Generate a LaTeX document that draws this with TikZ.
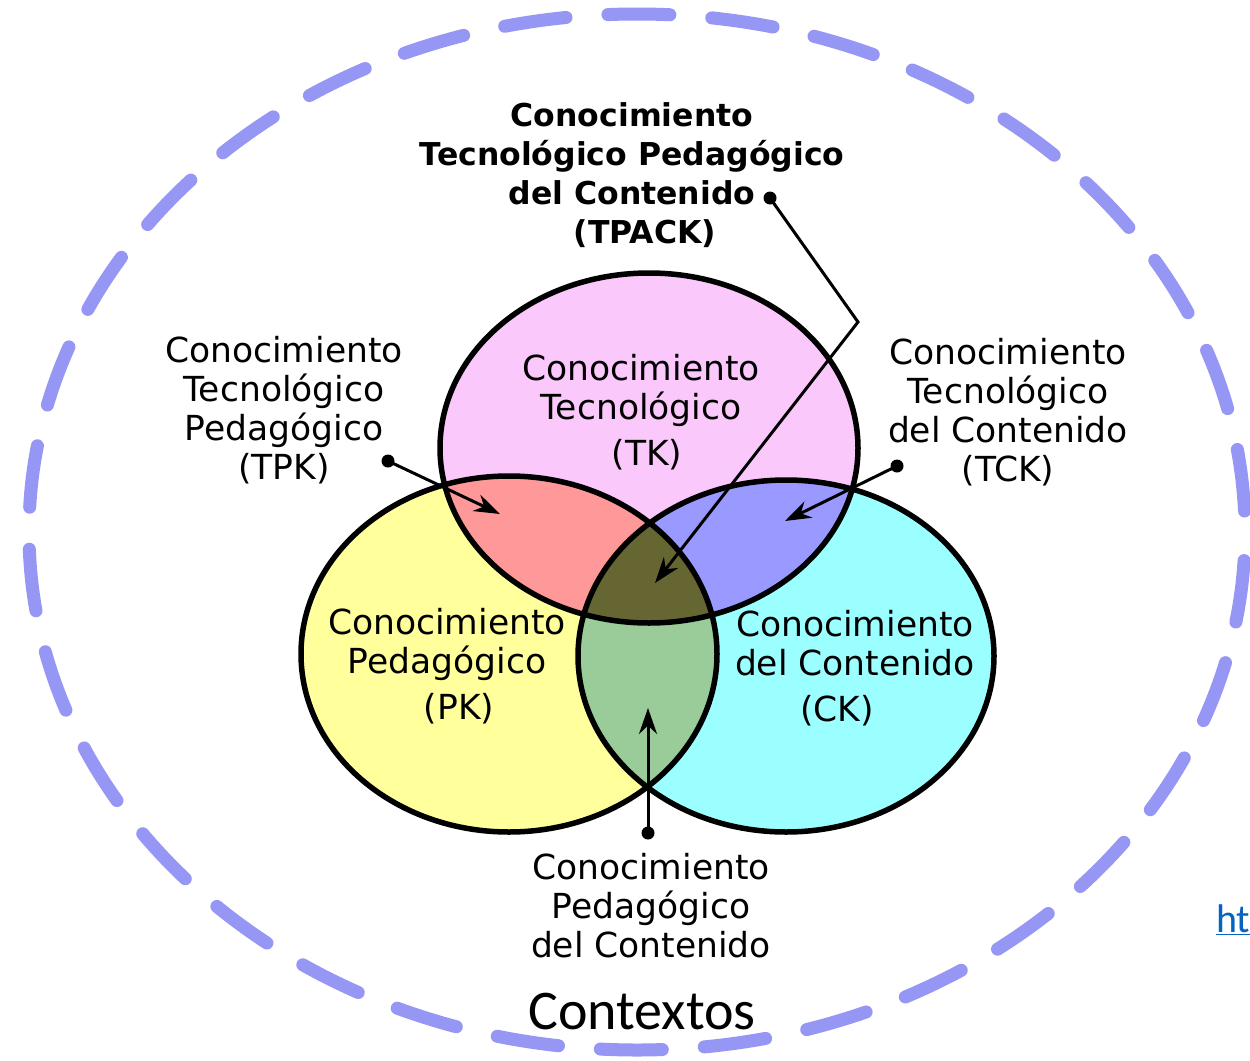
\documentclass[tikz,border=0pt]{standalone}
\usepackage{fontspec}
\setmainfont{DejaVu Sans}
\newfontfamily\ctxfont{Carlito}
\usetikzlibrary{arrows.meta}
\definecolor{ringc}{RGB}{150,150,245}
\definecolor{tkc}{RGB}{250,200,250}
\definecolor{pkc}{RGB}{255,255,155}
\definecolor{ckc}{RGB}{155,255,255}
\definecolor{tpkc}{RGB}{255,153,153}
\definecolor{tckc}{RGB}{153,153,255}
\definecolor{pckc}{RGB}{153,204,153}
\definecolor{allc}{RGB}{102,102,51}
\definecolor{linkc}{RGB}{5,99,193}
\tikzset{
  lbl/.style={align=center,font=\fontsize{34.5}{39}\selectfont,inner sep=0pt},
  blbl/.style={lbl,font=\fontsize{31.5}{39}\selectfont\bfseries},
  dotn/.style={circle,fill=black,minimum size=13pt,inner sep=0pt},
  arr/.style={line width=3pt,-{Stealth[length=26pt,width=18pt]}},
  outl/.style={line width=5.5pt,black},
}
\begin{document}
\begin{tikzpicture}[x=1pt,y=-1pt]
\useasboundingbox (0,0) rectangle (1250,1060);
\clip (0,0) rectangle (1250,1060);
\fill[white] (0,0) rectangle (1250,1060);
% outer context ring
\draw[ringc,line width=13pt,line cap=round,dash pattern=on 62pt off 42pt,dash phase=83pt]
  (637,532) ellipse [x radius=608pt,y radius=518pt];
% base fills
\fill[tkc] (649,448) ellipse [x radius=209pt,y radius=175pt];
\fill[pkc] (509,654) ellipse [x radius=208pt,y radius=178pt];
\fill[ckc] (786,656) ellipse [x radius=208pt,y radius=176pt];
\begin{scope}
  \clip (649,448) ellipse [x radius=209pt,y radius=175pt];
  \fill[tpkc] (509,654) ellipse [x radius=208pt,y radius=178pt];
  \fill[tckc] (786,656) ellipse [x radius=208pt,y radius=176pt];
\end{scope}
\begin{scope}
  \clip (509,654) ellipse [x radius=208pt,y radius=178pt];
  \fill[pckc] (786,656) ellipse [x radius=208pt,y radius=176pt];
\end{scope}
\begin{scope}
  \clip (649,448) ellipse [x radius=209pt,y radius=175pt];
  \clip (509,654) ellipse [x radius=208pt,y radius=178pt];
  \fill[allc] (786,656) ellipse [x radius=208pt,y radius=176pt];
\end{scope}
\draw[outl] (649,448) ellipse [x radius=209pt,y radius=175pt];
\draw[outl] (509,654) ellipse [x radius=208pt,y radius=178pt];
\draw[outl] (786,656) ellipse [x radius=208pt,y radius=176pt];
% circle labels
\node[lbl] (tk) at (641,412) {Conocimiento\\Tecnológico\\[7pt]\hspace*{12pt}(TK)};
\node[lbl] (pk) at (447,666) {Conocimiento\\Pedagógico\\[7pt]\hspace*{24pt}(PK)};
\node[lbl] (ck) at (855,668) {Conocimiento\\del Contenido\\[7pt]\hspace*{-36pt}(CK)};
% outer labels
\node[blbl] (tpack) at (632,175) {Conocimiento\\Tecnológico Pedagógico\\del Contenido\\\hspace*{26pt}(TPACK)};
\node[lbl] (tpk) at (284,410) {Conocimiento\\Tecnológico\\Pedagógico\\(TPK)};
\node[lbl] (tck) at (1008,412) {Conocimiento\\Tecnológico\\del Contenido\\(TCK)};
\node[lbl] (pck) at (651,906) {Conocimiento\\Pedagógico\\del Contenido};
\node[inner sep=0pt,font=\ctxfont\fontsize{56}{60}\selectfont] (ctx) at (642,1012) {Contextos};
\node[anchor=west,inner sep=0pt,text=linkc,font=\ctxfont\fontsize{40}{44}\selectfont] (link) at (1216,920) {\underline{ht}};
% pointers
\node[dotn] (dtpk) at (388,461) {};
\coordinate (atpk) at (500,514);
\draw[arr] (dtpk.center) -- (atpk);
\node[dotn] (dtck) at (897,466) {};
\coordinate (atck) at (785,521);
\draw[arr] (dtck.center) -- (atck);
\node[dotn] (dtpack) at (770,198) {};
\coordinate (btpack) at (858,322);
\coordinate (atpack) at (655,583);
\draw[arr,line join=miter] (dtpack.center) -- (btpack) -- (atpack);
\node[dotn] (dpck) at (648,833) {};
\coordinate (apck) at (648,708);
\draw[arr] (dpck.center) -- (apck);
\end{tikzpicture}
\end{document}
